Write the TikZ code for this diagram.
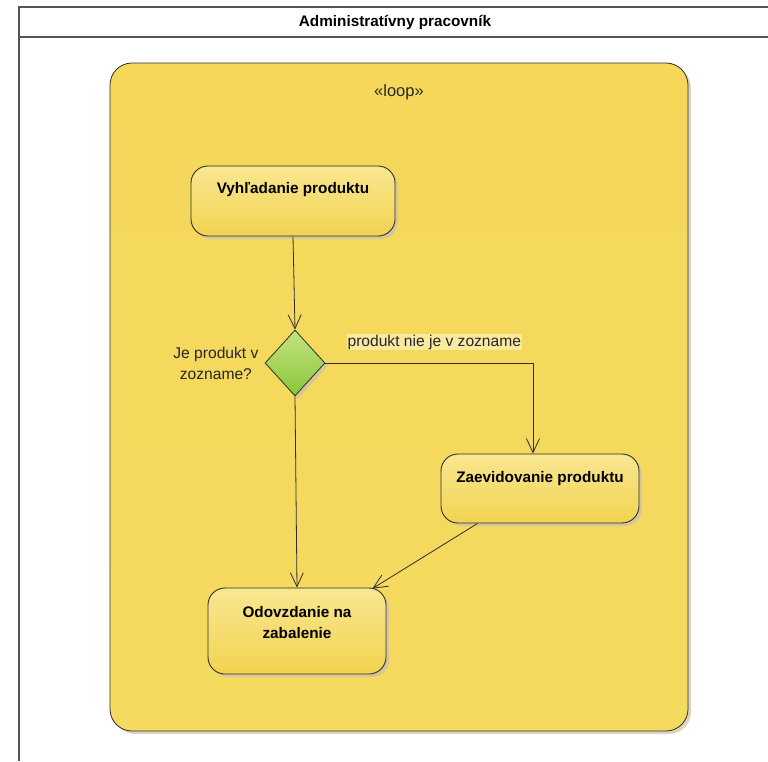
\documentclass[tikz,border=0pt]{standalone}
\usepackage{fontspec}
\setmainfont{Liberation Sans}
\usetikzlibrary{positioning,arrows.meta,shapes.geometric,shadows}
\definecolor{UMLOkraj}{HTML}{2E2E2E}
\definecolor{UMLDraha}{HTML}{555555}
\definecolor{SlucHore}{RGB}{245,216,90}
\definecolor{SlucStred}{RGB}{249,233,152}
\definecolor{SlucDole}{RGB}{245,218,96}
\definecolor{AkcHore}{RGB}{249,231,145}
\definecolor{AkcDole}{RGB}{242,211,80}
\definecolor{RozhHore}{RGB}{196,228,128}
\definecolor{RozhDole}{RGB}{138,198,58}
\definecolor{Tien}{RGB}{205,195,165}
\definecolor{PopisPozadie}{RGB}{249,234,160}
\tikzset{
  slucka/.style={draw=UMLOkraj, rounded corners=22pt, line width=0.8pt, top color=SlucHore,
                 middle color=SlucStred, bottom color=SlucDole, shading=axis,
                 drop shadow={shadow xshift=3pt, shadow yshift=-3pt, fill=Tien, opacity=0.7}},
  akcia/.style={draw=UMLOkraj, rounded corners=17pt, line width=0.9pt, top color=AkcHore, bottom color=AkcDole,
                drop shadow={shadow xshift=3pt, shadow yshift=-3pt, fill=Tien, opacity=0.8}},
  rozhodnutie/.style={diamond, draw=UMLOkraj, line width=0.8pt, top color=RozhHore, bottom color=RozhDole,
                      minimum width=60pt, minimum height=66pt, inner sep=0pt, aspect=0.9,
                      drop shadow={shadow xshift=3pt, shadow yshift=-3pt, fill=Tien, opacity=0.8}},
  nazov/.style={font=\bfseries\fontsize{15.3pt}{21pt}\selectfont, align=center, inner sep=0pt},
  popis/.style={font=\fontsize{15.6pt}{21pt}\selectfont, align=center, inner sep=1pt, text=black!85},
  prechod/.style={draw=UMLOkraj, line width=0.8pt, -{Straight Barb[length=14pt, width=13pt]}},
}

\begin{document}
\begin{tikzpicture}[x=1pt, y=-1pt]
  \useasboundingbox[fill=white] (0,0) rectangle (768,761);
  % plavecka draha
  \draw[UMLDraha, line width=1.3pt] (768,7) -- (19,7) -- (19,761);
  \draw[UMLDraha, line width=1.3pt] (19,37) -- (768,37);
  \node[nazov] (draha) at (395,22) {Administratívny pracovník};

  % slucka
  \node[slucka, minimum width=578pt, minimum height=668pt] (loop) at (399,397) {};
  \node[popis, font=\fontsize{16.5pt}{21pt}\selectfont] (stereo) at ([yshift=-29.5pt]loop.north) {«loop»};

  % akcie a rozhodnutie
  \node[akcia, minimum width=204pt, minimum height=70pt] (vyhl) at (293,201) {};
  \node[nazov] at ([yshift=-24pt]vyhl.north) {Vyhľadanie produktu};
  \node[rozhodnutie] (rozh) at (295,363) {};
  \node[popis, left=5pt of rozh] (otazka) {Je produkt v\\zozname?};
  \node[akcia, minimum width=198pt, minimum height=69pt] (zaev) at (540,488.5) {};
  \node[nazov] at ([yshift=-25pt]zaev.north) {Zaevidovanie produktu};
  \node[akcia, minimum width=178pt, minimum height=86pt] (odov) at (297,631) {};
  \node[nazov] at ([yshift=-35pt]odov.north) {Odovzdanie na\\zabalenie};

  % prechody
  \draw[prechod] (vyhl.south) -- (rozh.north);
  \draw[prechod] (rozh.south) -- (odov.north);
  \draw[prechod] (rozh.east) -| ([xshift=-7pt]zaev.north);
  \draw[prechod] ([xshift=37pt]zaev.south west) -- ([xshift=-14pt,yshift=-1pt]odov.north east);
  \node[popis, fill=PopisPozadie, anchor=west] (nie) at ([xshift=21pt,yshift=21pt]rozh.east) {produkt nie je v zozname};
\end{tikzpicture}
\end{document}
